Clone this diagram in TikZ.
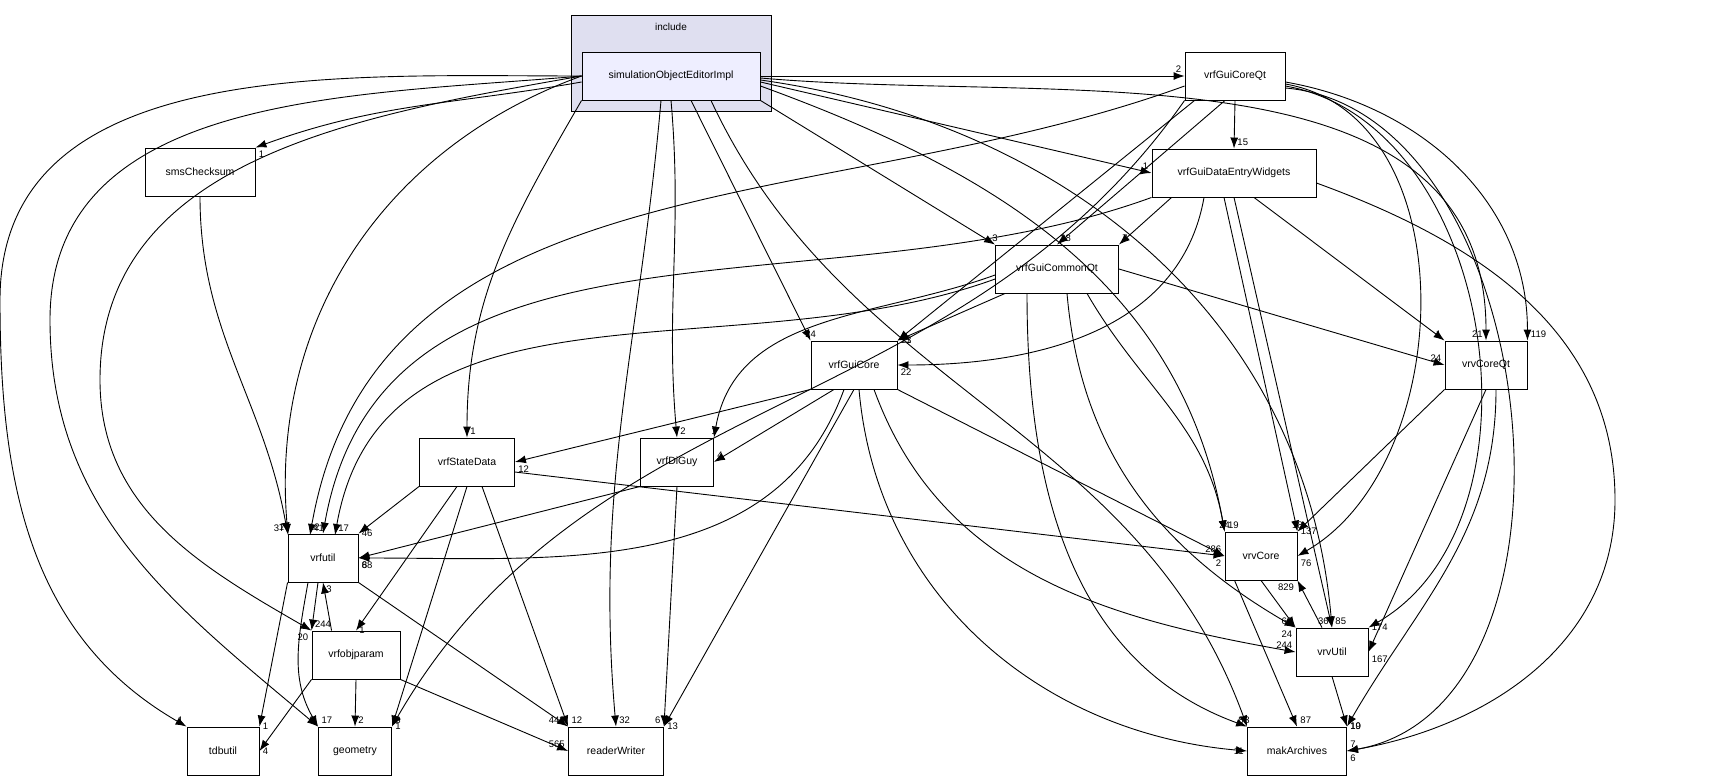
\documentclass[tikz,border=0pt]{standalone}
\usepackage{fontspec}
\setmainfont{Liberation Sans}
\usepackage{tikz}
\usetikzlibrary{arrows.meta,positioning}

\tikzset{
    dir/.style={draw=black, fill=white, line width=0.9pt, minimum height=48pt, inner xsep=9pt, font=\fontsize{10.5}{12}\selectfont},
    dep/.style={-{Latex[length=11pt,width=8pt]}, black, line width=0.9pt},
    num/.style={font=\fontsize{9.5}{10}\selectfont, inner sep=3pt}
}

\begin{document}
\begin{tikzpicture}[x=1pt, y=1pt]
        \useasboundingbox (0,0) rectangle (1720,-777);

        % cluster
        \draw[line width=0.9pt, fill={rgb,255:red,223;green,223;blue,240}] (571,-15) rectangle (771,-111);
        \node[font=\fontsize{10}{12}\selectfont] (cl) at (671,-27) {include};

        % directories
        \node[dir, fill={rgb,255:red,238;green,238;blue,255}, minimum width=178pt] (sim) at (671,-76) {simulationObjectEditorImpl};
        \node[dir, minimum width=100pt] (guicoreqt) at (1235,-76) {vrfGuiCoreQt};
        \node[dir, minimum width=110pt] (sms) at (200,-172) {smsChecksum};
        \node[dir, minimum width=164pt] (entry) at (1234,-173) {vrfGuiDataEntryWidgets};
        \node[dir, minimum width=123pt] (commonqt) at (1057,-269) {vrfGuiCommonQt};
        \node[dir, minimum width=86pt] (guicore) at (854,-365) {vrfGuiCore};
        \node[dir, minimum width=82pt] (corqt) at (1486,-365) {vrvCoreQt};
        \node[dir, minimum width=95pt] (state) at (467,-462) {vrfStateData};
        \node[dir, minimum width=73pt] (diguy) at (677,-462) {vrfDiGuy};
        \node[dir, minimum width=70pt] (util) at (323,-558) {vrfutil};
        \node[dir, minimum width=72pt] (vcore) at (1261,-556) {vrvCore};
        \node[dir, minimum width=88pt] (objp) at (356,-655) {vrfobjparam};
        \node[dir, minimum width=72pt] (vutil) at (1332,-652) {vrvUtil};
        \node[dir, minimum width=72pt] (tdb) at (223,-751) {tdbutil};
        \node[dir, minimum width=73pt] (geo) at (355,-751) {geometry};
        \node[dir, minimum width=95pt] (rw) at (616,-751) {readerWriter};
        \node[dir, minimum width=99pt] (mak) at (1297,-751) {makArchives};

        % simulationObjectEditorImpl
        \draw[dep] (sim.east) -- (guicoreqt.west) node[num, pos=1, above left] {2};
        \draw[dep] (sim.west) ++(0,-6) to[out=190, in=20] (sms.north east) node[num, below right] {1};
        \draw[dep] (sim.west) to[out=180, in=90] (0,-300) to[out=-90, in=150] (tdb.north west) node[num, above left] {1};
        \draw[dep] (sim.west) to[out=185, in=90] (50,-320) to[out=-90, in=140] (geo.north west) node[num, above left] {2};
        \draw[dep] (sim.west) to[out=190, in=90] (100,-380) to[out=-90, in=150] (objp.north west) node[num, below left] {20};
        \draw[dep] (sim.west) to[out=200, in=95] (288,-535) node[num, above left] {37};
        \draw[dep] (sim.south west) to[out=240, in=90] (state.north) node[num, above right] {1};
        \draw[dep] (sim.south) ++(-10,0) to[out=-95, in=95] (rw.north) node[num, above right] {32};
        \draw[dep] (sim.south) ++(0,0) to[out=-85, in=95] (diguy.north) node[num, above right] {2};
        \draw[dep] (sim.south) ++(20,0) -- (guicore.north west) node[num, above] {24};
        \draw[dep] (sim.south) ++(40,0) to[out=-65, in=110] (mak.north west) node[num, above left] {8};
        \draw[dep] (sim.south east) -- (commonqt.north west) node[num, above] {3};
        \draw[dep] (sim.east) ++(0,-10) to[out=-20, in=100] (vcore.north west) node[num, above right] {19};
        \draw[dep] (sim.east) ++(0,-6) -- (entry.west) node[num, above left] {1};
        \draw[dep] (sim.east) ++(0,-4) to[out=-8, in=95] (vutil.north) node[num, above right] {85};
        \draw[dep] (sim.east) ++(0,-2) to[out=-5, in=90] (corqt.north) node[num, above left] {21};

        % vrfGuiCoreQt
        \draw[dep] (guicoreqt.south) -- (entry.north) node[num, above right] {15};
        \draw[dep] (guicoreqt.south) ++(-10,0) -- (commonqt.north) node[num, above right] {38};
        \draw[dep] (guicoreqt.south west) ++(10,0) -- (guicore.north east) node[num, right] {73};
        \draw[dep] (guicoreqt.west) ++(0,-10) to[out=200, in=80] (310,-535) node[num, above right] {41};
        \draw[dep] (guicoreqt.south west) to[out=235, in=60] (geo.north east) node[num, right] {1};
        \draw[dep] (guicoreqt.east) ++(0,-6) to[out=-10, in=90] (corqt.north east) node[num, above right] {119};
        \draw[dep] (guicoreqt.east) ++(0,-8) to[out=-10, in=30] (vcore.east) node[num, below right] {76};
        \draw[dep] (guicoreqt.east) ++(0,-10) to[out=-10, in=30] (vutil.north east) node[num, right] {174};
        \draw[dep] (guicoreqt.east) ++(0,-12) to[out=-5, in=10] (mak.east) node[num, above right] {7};

        % smsChecksum
        \draw[dep] (sms.south) to[out=-90, in=100] (util.north west) node[num, above left] {1};

        % vrfGuiDataEntryWidgets
        \draw[dep] (entry.south west) ++(20,0) -- (commonqt.north east) node[num, above right] {7};
        \draw[dep] (entry.south) ++(-30,0) to[out=-100, in=0] (guicore.east) node[num, below right] {22};
        \draw[dep] (entry.south west) to[out=200, in=80] (util.north) node[num, above left] {12};
        \draw[dep] (entry.south) ++(20,0) -- (corqt.north west) node[num, above left] {1};
        \draw[dep] (entry.south) ++(-10,0) -- (vcore.north east) node[num, above] {18};
        \draw[dep] (entry.south) ++(0,0) -- (vutil.north) node[num, above left] {36};
        \draw[dep] (entry.east) ++(0,-10) to[out=-20, in=90] (1615,-500) to[out=-90, in=10] (mak.east) node[num, below right] {6};

        % vrfGuiCommonQt
        \draw[dep] (commonqt.south west) ++(10,0) -- (guicore.north east) node[num, right] {21};
        \draw[dep] (commonqt.east) -- (corqt.west) node[num, above left] {24};
        \draw[dep] (commonqt.west) ++(0,-10) to[out=200, in=80] (335,-535) node[num, above right] {17};
        \draw[dep] (commonqt.west) ++(0,-6) to[out=200, in=80] (diguy.north east) node[num, above] {1};
        \draw[dep] (commonqt.south) ++(30,0) to[out=-60, in=100] (vcore.north west) node[num, above] {24};
        \draw[dep] (commonqt.south) ++(10,0) to[out=-85, in=150] (vutil.north west) node[num, below left] {24};
        \draw[dep] (commonqt.south) ++(-30,0) to[out=-90, in=160] (mak.north west) node[num, above] {3};

        % vrfGuiCore
        \draw[dep] (guicore.south west) -- (state.east) node[num, below right] {12};
        \draw[dep] (guicore.south) ++(-20,0) -- (diguy.east) node[num, above right] {4};
        \draw[dep] (guicore.south) ++(-10,0) to[out=-110, in=0] (util.east) node[num, below right] {88};
        \draw[dep] (guicore.south) -- (rw.north east) node[num, right] {13};
        \draw[dep] (guicore.south east) -- (vcore.west) node[num, above left] {286};
        \draw[dep] (guicore.south) ++(20,0) to[out=-70, in=170] (vutil.west) node[num, above left] {244};
        \draw[dep] (guicore.south) ++(5,0) to[out=-85, in=175] (mak.west) node[num, left] {11};

        % vrvCoreQt
        \draw[dep] (corqt.south west) -- (vcore.north east) node[num, right] {137};
        \draw[dep] (corqt.south) -- (vutil.east) node[num, below right] {167};
        \draw[dep] (corqt.south) ++(10,0) to[out=-90, in=60] (mak.north east) node[num, right] {19};

        % vrfStateData
        \draw[dep] (state.south west) -- (util.north east) node[num, right] {46};
        \draw[dep] (state.south) ++(-10,0) -- (objp.north) node[num, right] {1};
        \draw[dep] (state.south) -- (geo.north east) node[num, above right] {8};
        \draw[dep] (state.south) ++(15,0) -- (rw.north west) node[num, above right] {12};
        \draw[dep] (state.east) ++(0,-10) -- (vcore.west) node[num, below left] {2};

        % vrfDiGuy
        \draw[dep] (diguy.south west) -- (util.east) node[num, below right] {6};
        \draw[dep] (diguy.south) -- (rw.north east) node[num, above left] {6};

        % vrfutil
        \draw[dep] (util.south) ++(-5,0) -- (objp.north west) node[num, above right] {244};
        \draw[dep] (util.south west) -- (tdb.north east) node[num, right] {1};
        \draw[dep] (util.south) ++(-15,0) to[out=-100, in=120] (geo.north west) node[num, above right] {17};
        \draw[dep] (util.south east) -- (rw.north west) node[num, above left] {443};

        % vrfobjparam
        \draw[dep] (objp.north west) ++(20,0) -- (util.south) node[num, below right] {3};
        \draw[dep] (objp.south west) -- (tdb.east) node[num, right] {4};
        \draw[dep] (objp.south) -- (geo.north) node[num, above right] {2};
        \draw[dep] (objp.south east) -- (rw.west) node[num, above left] {565};

        % vrvCore / vrvUtil
        \draw[dep] (vcore.south) -- (vutil.north west) node[num, above left] {60};
        \draw[dep] (vcore.south west) ++(10,0) -- (mak.north) node[num, above right] {87};
        \draw[dep] (vutil.north) ++(-10,0) -- (vcore.south east) node[num, below left] {829};
        \draw[dep] (vutil.south) -- (mak.north east) node[num, right] {10};
    \end{tikzpicture}
\end{document}
